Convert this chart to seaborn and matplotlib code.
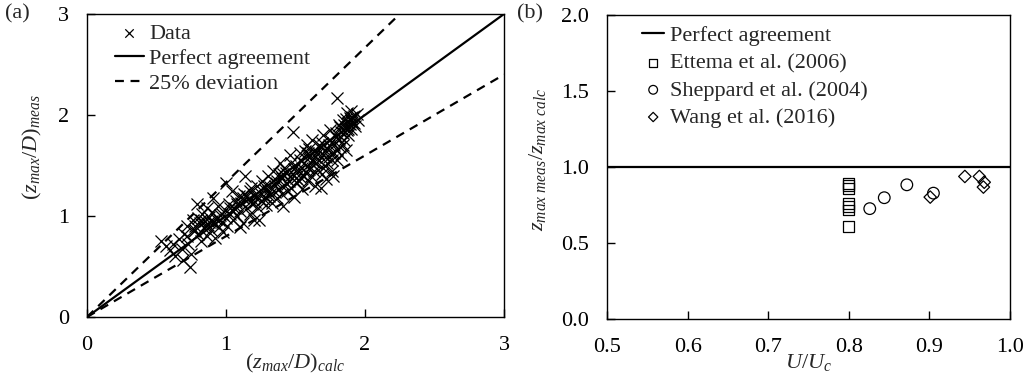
import numpy as np
import pandas as pd
import matplotlib
matplotlib.use("Agg")
import matplotlib.pyplot as plt
import seaborn as sns

calc = [0.53, 0.57, 0.60, 0.62, 0.63, 0.66, 0.68, 0.69, 0.70, 0.72, 0.73, 0.74, 0.75, 0.76, 0.77,
        0.78, 0.79, 0.80, 0.80, 0.81, 0.82, 0.83, 0.84, 0.85, 0.86, 0.86, 0.87, 0.88, 0.89,
        0.90, 0.91, 0.91, 0.92, 0.93, 0.94, 0.95, 0.96, 0.97, 0.98, 0.99, 1.00, 1.00,
        1.01, 1.02, 1.03, 1.04, 1.05, 1.06, 1.07, 1.08, 1.09, 1.10, 1.10, 1.11,
        1.12, 1.13, 1.14, 1.15, 1.16, 1.17, 1.18, 1.19, 1.20, 1.20,
        1.21, 1.22, 1.23, 1.24, 1.25, 1.26, 1.27, 1.28, 1.29, 1.30, 1.31, 1.32, 1.33,
        1.34, 1.35, 1.36, 1.37, 1.38, 1.39, 1.40, 1.40, 1.41, 1.42, 1.43, 1.44, 1.45,
        1.46, 1.47, 1.48, 1.48, 1.49, 1.50, 1.51, 1.52, 1.53, 1.54, 1.55, 1.56, 1.57, 1.58, 1.59,
        1.60, 1.60, 1.61, 1.62, 1.63, 1.64, 1.65, 1.66, 1.67, 1.68, 1.68, 1.69, 1.70, 1.70,
        1.71, 1.72, 1.73, 1.74, 1.75, 1.76, 1.77, 1.77, 1.78, 1.79, 1.80, 1.80, 1.81, 1.82, 1.83,
        1.83, 1.84, 1.85, 1.86, 1.86, 1.87, 1.88, 1.88, 1.89, 1.90, 1.90, 1.91, 1.92, 1.93, 1.94, 1.95,
        1.55, 1.58, 1.62, 1.64, 1.66, 1.72, 1.74, 1.76, 1.78, 1.81, 1.84, 1.85, 1.87, 1.89, 1.91,
        1.46, 1.50, 1.52, 1.35, 1.30, 1.25, 1.18, 0.95, 0.85, 0.88, 1.05, 1.15, 1.42, 1.57, 1.69,
        0.72, 0.78, 0.82, 0.90, 0.97, 1.03, 1.08, 1.12, 1.17, 1.22, 1.27, 1.32, 1.37, 1.41, 1.44,
        1.47, 1.53, 1.56, 1.59, 1.61, 1.63, 1.67, 1.71, 1.73, 1.75, 1.79, 1.82, 1.84, 1.86, 1.88,
        1.90, 1.92, 1.60, 1.65, 1.70, 1.76, 1.80, 1.49, 1.38, 1.28]
meas = [0.75, 0.70, 0.66, 0.72, 0.60, 0.77, 0.67, 0.56, 0.82, 0.90, 0.72, 0.50, 0.62, 0.96, 0.85,
        0.90, 1.12, 0.98, 0.82, 0.93, 0.75, 1.02, 0.88, 0.95, 1.08, 0.80, 0.91, 0.99, 0.86,
        1.04, 1.18, 0.93, 0.78, 0.97, 1.10, 0.89, 1.01, 0.94, 0.84, 1.06, 1.33, 0.98,
        0.90, 1.12, 1.02, 1.25, 0.96, 1.08, 1.15, 1.00, 1.20, 0.89, 1.05, 1.13,
        0.93, 1.22, 1.40, 1.08, 1.17, 1.02, 1.28, 1.12, 0.96, 1.20,
        1.14, 1.30, 1.08, 0.96, 1.22, 1.35, 1.17, 1.26, 1.11, 1.40, 1.20, 1.29, 1.13,
        1.45, 1.24, 1.33, 1.18, 1.27, 1.52, 1.22, 1.38, 1.10, 1.31, 1.43, 1.25, 1.35,
        1.60, 1.28, 1.83, 1.42, 1.19, 1.50, 1.33, 1.45, 1.62, 1.38, 1.27, 1.52, 1.44, 1.70, 1.35,
        1.58, 1.47, 1.40, 1.75, 1.53, 1.30, 1.62, 1.46, 1.55, 1.28, 1.68, 1.42, 1.60, 1.80,
        1.50, 1.37, 1.66, 1.58, 1.85, 1.45, 1.72, 1.40, 1.62, 1.78, 2.17, 1.55, 1.90, 1.68, 1.83,
        1.60, 1.95, 1.75, 1.88, 1.65, 2.02, 1.92, 1.80, 1.97, 1.86, 2.04, 1.93, 1.99, 1.89, 2.01, 1.95,
        1.48, 1.50, 1.55, 1.58, 1.62, 1.58, 1.70, 1.62, 1.70, 1.76, 1.82, 1.90, 1.85, 1.91, 1.98,
        1.40, 1.38, 1.36, 1.30, 1.25, 1.15, 1.15, 0.96, 0.90, 0.94, 1.05, 1.20, 1.48, 1.64, 1.72,
        0.80, 0.86, 0.96, 0.95, 1.02, 1.08, 1.12, 1.18, 1.25, 1.20, 1.30, 1.22, 1.35, 1.42, 1.32,
        1.52, 1.55, 1.40, 1.62, 1.52, 1.45, 1.70, 1.65, 1.52, 1.75, 1.82, 1.88, 1.70, 1.96, 1.86,
        1.95, 1.92, 1.66, 1.52, 1.48, 1.55, 1.65, 1.47, 1.42, 1.19]

# reference lines
diag_x = [0, 3]
deviation = 0.25

# (b) ratio vs U/Uc
ettema_u = [0.80, 0.80, 0.80, 0.80, 0.80, 0.80, 0.80]
ettema_r = [0.89, 0.875, 0.855, 0.76, 0.74, 0.715, 0.607]
sheppard_u = [0.826, 0.844, 0.872, 0.905]
sheppard_r = [0.724, 0.796, 0.881, 0.826]
wang_u = [0.901, 0.944, 0.962, 0.968, 0.967]
wang_r = [0.80, 0.936, 0.936, 0.898, 0.866]
ratio_x = [0.5, 1.0]

sns.set_theme(style="white")
plt.rcParams['font.family'] = ['Liberation Serif', 'DejaVu Serif']
plt.rcParams['mathtext.fontset'] = 'custom'
plt.rcParams['mathtext.rm'] = 'Liberation Serif'
plt.rcParams['mathtext.it'] = 'Liberation Serif:italic'
plt.rcParams['font.size'] = 16
plt.rcParams['axes.linewidth'] = 1.0
plt.rcParams['axes.edgecolor'] = 'black'

fs = 16
fig = plt.figure(figsize=(10.28, 3.85), dpi=100)
ax1 = fig.add_axes([87/1028, 68/385, 417/1028, 303/385])
ax2 = fig.add_axes([607/1028, 66.5/385, 403/1028, 303.5/385])

# ---- panel (a)
sns.scatterplot(x=calc, y=meas, ax=ax1, marker='x', color='black', s=75,
                linewidth=0.9, label='Data')
dx = np.array(diag_x, dtype=float)
sns.lineplot(x=dx, y=dx, ax=ax1, color='black', lw=1.6, label='Perfect agreement')
ax1.plot(dx, dx / (1 - deviation), color='black', lw=1.6, ls=(0, (4, 3)), label='25% deviation')
ax1.plot(dx, dx / (1 + deviation), color='black', lw=1.6, ls=(0, (4, 3)))
ax1.set_xlim(0, 3)
ax1.set_ylim(0, 3)
ax1.set_xticks([0, 1, 2, 3])
ax1.set_yticks([0, 1, 2, 3])
ax1.set_xlabel(r'$(z_{max}/D)_{calc}$', fontsize=fs)
ax1.set_ylabel(r'$(z_{max}/D)_{meas}$', fontsize=fs)
ax1.xaxis.set_label_coords(0.5, -0.115)
ax1.yaxis.set_label_coords(-0.103, 0.56)
ax1.legend(loc='upper left', bbox_to_anchor=(0.067, 0.968), frameon=False, borderpad=0,
           borderaxespad=0, handlelength=1.3, handletextpad=0.25, labelspacing=0.2,
           markerscale=0.7, fontsize=fs)

# ---- panel (b)
sns.lineplot(x=ratio_x, y=[1.0, 1.0], ax=ax2, color='black', lw=1.6, label='Perfect agreement')
sns.scatterplot(x=ettema_u, y=ettema_r, ax=ax2, marker='s', s=60, facecolor='none',
                edgecolor='black', linewidth=0.9, label='Ettema et al. (2006)')
sns.scatterplot(x=sheppard_u, y=sheppard_r, ax=ax2, marker='o', s=70, facecolor='none',
                edgecolor='black', linewidth=0.9, label='Sheppard et al. (2004)')
sns.scatterplot(x=wang_u, y=wang_r, ax=ax2, marker='D', s=40, facecolor='none',
                edgecolor='black', linewidth=0.9, label='Wang et al. (2016)')
ax2.set_xlim(0.5, 1.0)
ax2.set_ylim(0, 2.0)
ax2.set_xticks([0.5, 0.6, 0.7, 0.8, 0.9, 1.0])
ax2.set_yticks([0.0, 0.5, 1.0, 1.5, 2.0])
ax2.set_xticklabels(['0.5', '0.6', '0.7', '0.8', '0.9', '1.0'])
ax2.set_yticklabels(['0.0', '0.5', '1.0', '1.5', '2.0'])
ax2.set_xlabel(r'$U/U_c$', fontsize=fs)
ax2.set_ylabel(r'$z_{max\ meas}/z_{max\ calc}$', fontsize=fs)
ax2.xaxis.set_label_coords(0.5, -0.11)
ax2.yaxis.set_label_coords(-0.146, 0.525)
ax2.legend(loc='upper left', bbox_to_anchor=(0.087, 0.965), frameon=False, borderpad=0,
           borderaxespad=0, handlelength=1.0, handletextpad=0.25, labelspacing=0.3,
           markerscale=0.75, fontsize=fs)

for ax in (ax1, ax2):
    ax.tick_params(direction='in', length=6, width=1, colors='black', labelsize=fs,
                   bottom=True, left=True, top=False, right=False)
    ax.tick_params(axis='x', pad=14)
    ax.tick_params(axis='y', pad=13)
    for sp in ax.spines.values():
        sp.set_visible(True)
        sp.set_color('black')

fig.text(5/1028, 1 - 14/385, '(a)', fontsize=fs, va='center', ha='left')
fig.text(517/1028, 1 - 14/385, '(b)', fontsize=fs, va='center', ha='left')

plt.savefig('out.png', dpi=100)
